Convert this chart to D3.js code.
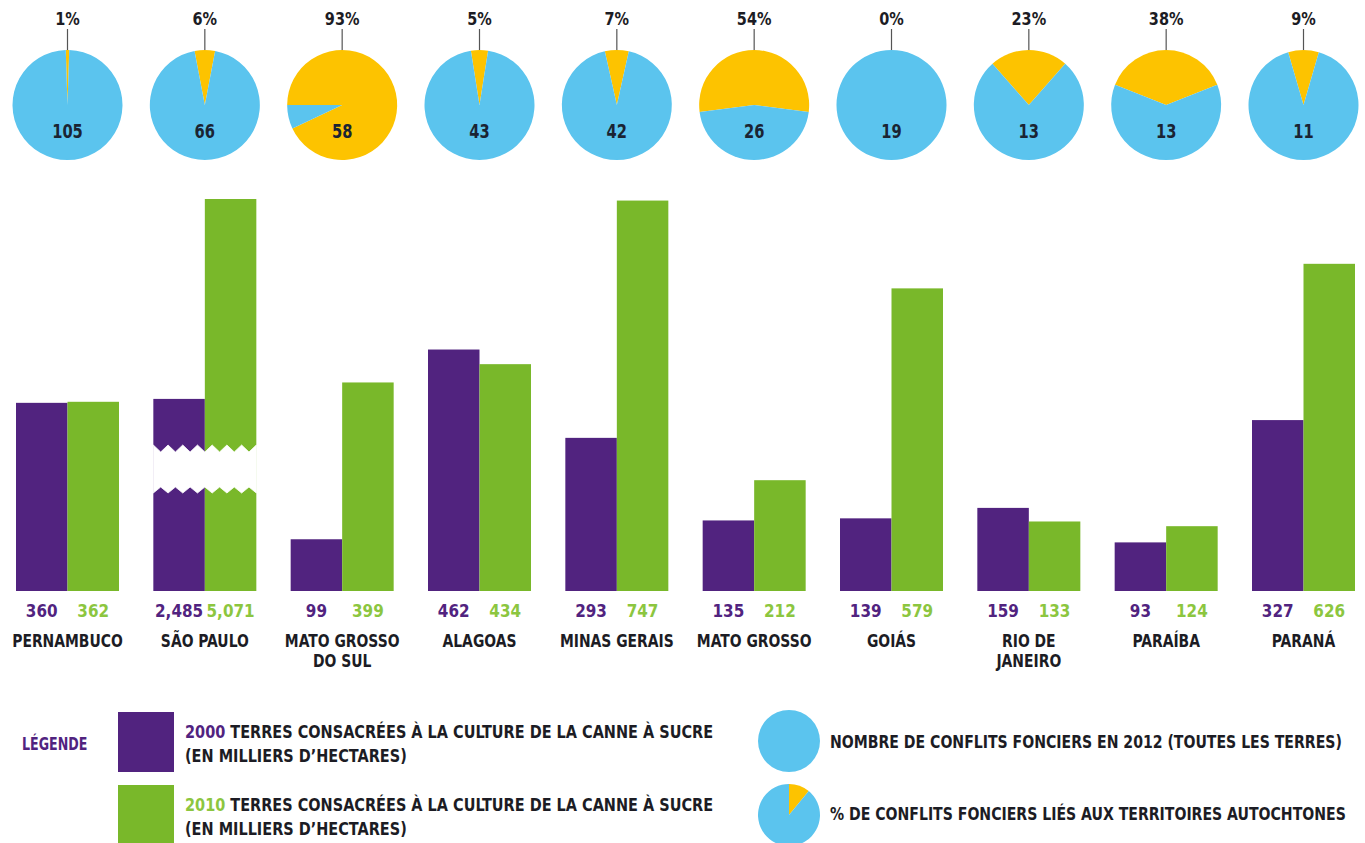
<!DOCTYPE html>
<html>
<head>
<meta charset="utf-8">
<script src="https://cdn.jsdelivr.net/npm/d3@7"></script>
<style>
  body { margin: 0; background: #fff; }
  svg { display: block; }
  text { font-family: "DejaVu Sans Condensed", "Liberation Sans Narrow", sans-serif; font-weight: bold; }
</style>
</head>
<body>
<div id="chart"></div>
<script>
'use strict';

// data
const states = ["PERNAMBUCO", "SÃO PAULO", "MATO GROSSO|DO SUL", "ALAGOAS", "MINAS GERAIS",
                "MATO GROSSO", "GOIÁS", "RIO DE|JANEIRO", "PARAÍBA", "PARANÁ"];
const cane2000 = [360, 2485, 99, 462, 293, 135, 139, 159, 93, 327];
const cane2010 = [362, 5071, 399, 434, 747, 212, 579, 133, 124, 626];
const conflicts = [105, 66, 58, 43, 42, 26, 19, 13, 13, 11];
const indigenousPct = [1, 6, 93, 5, 7, 54, 0, 23, 38, 9];
const labels2000 = ["360", "2,485", "99", "462", "293", "135", "139", "159", "93", "327"];
const labels2010 = ["362", "5,071", "399", "434", "747", "212", "579", "133", "124", "626"];

const width = 1365,
    height = 843,
    baseline = 591,
    pieY = 105,
    radius = 55;

const purple = "#51237f",
    green = "#79b82a",
    greenText = "#8cc63f",
    blue = "#5bc4ee",
    yellow = "#fdc300",
    ink = "#1c1c24";

const data = states.map((s, i) => ({
    state: s,
    v2000: cane2000[i],
    v2010: cane2010[i],
    l2000: labels2000[i],
    l2010: labels2010[i],
    conflicts: conflicts[i],
    pct: indigenousPct[i]
}));

// squeeze text horizontally around its own x so the glyphs look condensed
function squeeze(sel, sx) {
    sel.attr("transform", function() {
        const x0 = +this.getAttribute("x") || 0;
        return `translate(${x0 * (1 - sx)},0) scale(${sx},1)`;
    });
}

const svg = d3.select("#chart")
    .append("svg")
    .attr("width", width)
    .attr("height", height);

const x = d3.scaleBand()
    .domain(states)
    .range([16, 1355])
    .paddingInner(0.25)
    .paddingOuter(0);
const sub = d3.scaleBand()
    .domain(["2000", "2010"])
    .range([0, x.bandwidth()]);
const bw = x.bandwidth();

// normal scale, and a compressed one for São Paulo (drawn with a break)
const y = d3.scaleLinear().domain([0, 750]).range([baseline, 199]);
const ySP = d3.scaleLinear().domain([0, 5071]).range([baseline, 199]);
const yFor = d => d.state === "SÃO PAULO" ? ySP : y;

const groups = svg.selectAll(".state")
    .data(data)
    .join("g")
    .attr("class", "state")
    .attr("transform", d => `translate(${x(d.state)},0)`);

groups.append("rect")
    .attr("x", sub("2000"))
    .attr("width", sub.bandwidth())
    .attr("y", d => yFor(d)(d.v2000))
    .attr("height", d => baseline - yFor(d)(d.v2000))
    .attr("fill", purple);

groups.append("rect")
    .attr("x", sub("2010"))
    .attr("width", sub.bandwidth())
    .attr("y", d => yFor(d)(d.v2010))
    .attr("height", d => baseline - yFor(d)(d.v2010))
    .attr("fill", green);

// zigzag break on São Paulo
const teeth = 7,
    tooth = bw / teeth;
let brk = [];
for (let i = 0; i <= teeth; i++) {
    brk.push([i * tooth, 445]);
    if (i < teeth) brk.push([i * tooth + tooth / 2, 452]);
}
for (let i = teeth; i >= 0; i--) {
    brk.push([i * tooth, 493]);
    if (i > 0) brk.push([i * tooth - tooth / 2, 487]);
}
svg.append("path")
    .attr("transform", `translate(${x("SÃO PAULO")},0)`)
    .attr("d", "M" + brk.map(p => p.join(",")).join("L") + "Z")
    .attr("fill", "#fff")
    .attr("stroke", "#fff")
    .attr("stroke-width", 0.8);

// value labels
groups.append("text")
    .attr("x", sub("2000") + sub.bandwidth() / 2)
    .attr("y", 617)
    .attr("text-anchor", "middle")
    .attr("font-size", 18)
    .attr("fill", purple)
    .text(d => d.l2000)
    .call(squeeze, 0.94);
groups.append("text")
    .attr("x", sub("2010") + sub.bandwidth() / 2)
    .attr("y", 617)
    .attr("text-anchor", "middle")
    .attr("font-size", 18)
    .attr("fill", greenText)
    .text(d => d.l2010)
    .call(squeeze, 0.94);

// state names
groups.append("text")
    .attr("x", bw / 2)
    .attr("y", 647)
    .attr("text-anchor", "middle")
    .attr("font-size", 18)
    .attr("fill", ink)
    .call(squeeze, 0.86)
    .selectAll("tspan")
    .data(d => d.state.split("|"))
    .join("tspan")
    .attr("x", bw / 2)
    .attr("dy", (d, i) => i ? 20 : 0)
    .text(d => d);

// pies
const arc = d3.arc().innerRadius(0).outerRadius(radius);
const startFor = pct => pct > 90 ? -Math.PI / 2 : -pct / 100 * Math.PI;
const pieFor = pct => d3.pie()
    .sort(null)
    .value(v => v)
    .startAngle(startFor(pct))
    .endAngle(startFor(pct) + 2 * Math.PI);

const pies = svg.selectAll(".pie")
    .data(data)
    .join("g")
    .attr("class", "pie")
    .attr("transform", d => `translate(${x(d.state) + bw / 2},${pieY})`);

pies.selectAll("path")
    .data(d => pieFor(d.pct)([d.pct, 100 - d.pct]))
    .join("path")
    .attr("d", arc)
    .attr("fill", (d, i) => i === 0 ? yellow : blue);

pies.append("line")
    .attr("y1", -radius - 21)
    .attr("y2", -radius)
    .attr("stroke", "#555")
    .attr("stroke-width", 1.2);

pies.append("text")
    .attr("y", -80)
    .attr("text-anchor", "middle")
    .attr("font-size", 18.5)
    .attr("fill", ink)
    .text(d => d.pct + "%")
    .call(squeeze, 0.87);

pies.append("text")
    .attr("y", 33)
    .attr("text-anchor", "middle")
    .attr("font-size", 19)
    .attr("fill", "#1a2433")
    .text(d => d.conflicts)
    .call(squeeze, 0.86);

// legend
const legend = svg.append("g").attr("class", "legend");
legend.append("text")
    .attr("x", 22).attr("y", 750)
    .attr("font-size", 18)
    .attr("fill", purple)
    .text("LÉGENDE")
    .call(squeeze, 0.78);

const legendRows = [
    {year: "2000", color: purple, yearColor: purple, y: 712},
    {year: "2010", color: green, yearColor: greenText, y: 785}
];
const rows = legend.selectAll(".row")
    .data(legendRows)
    .join("g")
    .attr("transform", d => `translate(0,${d.y})`);
rows.append("rect")
    .attr("x", 118).attr("width", 56)
    .attr("height", 60)
    .attr("fill", d => d.color);
const rowText = rows.append("text")
    .attr("x", 185).attr("y", 26)
    .attr("font-size", 18.5)
    .attr("fill", ink)
    .call(squeeze, 0.87);
rowText.append("tspan")
    .attr("fill", d => d.yearColor)
    .text(d => d.year);
rowText.append("tspan")
    .text(" TERRES CONSACRÉES À LA CULTURE DE LA CANNE À SUCRE");
rows.append("text")
    .attr("x", 185).attr("y", 50)
    .attr("font-size", 18.5)
    .attr("fill", ink)
    .text("(EN MILLIERS D’HECTARES)")
    .call(squeeze, 0.87);

const lr = 31;
const legendArc = d3.arc().innerRadius(0).outerRadius(lr);
legend.append("circle")
    .attr("cx", 789).attr("cy", 741).attr("r", lr)
    .attr("fill", blue);
legend.append("g")
    .attr("transform", "translate(789,815)")
    .selectAll("path")
    .data(d3.pie().sort(null)([11, 89]))
    .join("path")
    .attr("d", legendArc)
    .attr("fill", (d, i) => i === 0 ? yellow : blue);

legend.append("text")
    .attr("x", 830).attr("y", 748)
    .attr("font-size", 18)
    .attr("fill", ink)
    .text("NOMBRE DE CONFLITS FONCIERS EN 2012 (TOUTES LES TERRES)")
    .call(squeeze, 0.87);
legend.append("text")
    .attr("x", 830).attr("y", 820)
    .attr("font-size", 18)
    .attr("fill", ink)
    .text("% DE CONFLITS FONCIERS LIÉS AUX TERRITOIRES AUTOCHTONES")
    .call(squeeze, 0.87);
</script>
</body>
</html>
